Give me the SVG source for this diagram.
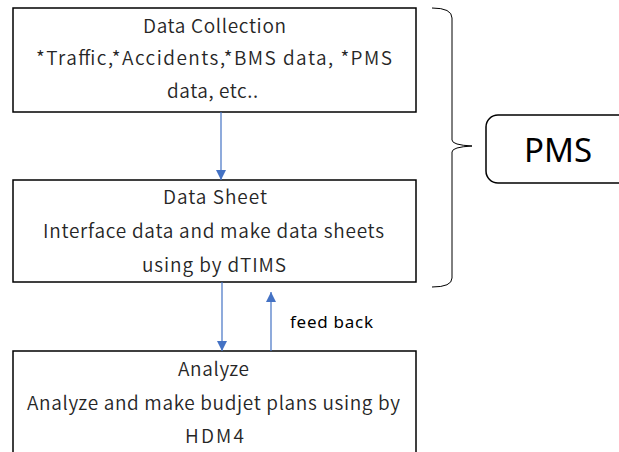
<svg xmlns="http://www.w3.org/2000/svg" width="619" height="452" viewBox="0 0 619 452">
  <style>
    .box { fill: #ffffff; stroke: #000000; stroke-width: 1.5; }
    .label { font-family: "Noto Sans CJK JP", "Noto Sans", sans-serif; font-size: 19px; font-weight: 350; fill: #262626; text-anchor: middle; }
    .link { stroke: #4472C4; stroke-width: 1.2; fill: none; }
    .note { font-family: "Noto Sans", "Liberation Sans", sans-serif; font-size: 17px; fill: #000000; }
  </style>
  <defs>
    <marker id="arrow" viewBox="0 0 10 10" refX="10" refY="5" markerWidth="10" markerHeight="10" markerUnits="userSpaceOnUse" orient="auto">
      <path d="M0,0 L10,5 L0,10 Z" fill="#4472C4"/>
    </marker>
  </defs>
  <rect width="619" height="452" fill="#ffffff"/>

  <g id="data-collection">
    <rect class="box" x="13" y="8" width="403" height="104"/>
    <text class="label" x="214.5" y="33" textLength="143" lengthAdjust="spacing">Data Collection</text>
    <text class="label" x="214" y="65" textLength="356" lengthAdjust="spacing">*Traffic,*Accidents,*BMS data, *PMS</text>
    <text class="label" x="212.5" y="98" textLength="91" lengthAdjust="spacing">data, etc..</text>
  </g>

  <g id="data-sheet">
    <rect class="box" x="13" y="180" width="403" height="102"/>
    <text class="label" x="215" y="204" textLength="104" lengthAdjust="spacing">Data Sheet</text>
    <text class="label" x="213.5" y="238" textLength="341" lengthAdjust="spacing">Interface data and make data sheets</text>
    <text class="label" x="214" y="272" textLength="144" lengthAdjust="spacing">using by dTIMS</text>
  </g>

  <g id="analyze">
    <rect class="box" x="13" y="351" width="403" height="110"/>
    <text class="label" x="213.5" y="376" textLength="71" lengthAdjust="spacing">Analyze</text>
    <text class="label" x="213.5" y="410" textLength="373" lengthAdjust="spacing">Analyze and make budjet plans using by</text>
    <text class="label" x="214.5" y="443" textLength="59" lengthAdjust="spacing">HDM4</text>
  </g>

  <g id="pms">
    <path d="M432,8 Q452,8 452,18 L452,140 Q452,145 472,146 Q452,147 452,152 L452,278 Q452,287 432,287" fill="none" stroke="#000000" stroke-width="1"/>
    <rect class="box" x="486" y="115" width="160" height="68" rx="12" ry="12"/>
    <text x="558" y="162" font-family="'Noto Sans', 'Open Sans', sans-serif" font-size="33" fill="#000000" text-anchor="middle">PMS</text>
  </g>

  <g id="connectors">
    <line class="link" x1="221" y1="112" x2="221" y2="180" marker-end="url(#arrow)"/>
    <line class="link" x1="222" y1="282" x2="222" y2="351" marker-end="url(#arrow)"/>
    <line class="link" x1="271" y1="351" x2="271" y2="292" marker-end="url(#arrow)" stroke="#8FAADC"/>
    <text class="note" x="290" y="328" textLength="83" lengthAdjust="spacing">feed back</text>
  </g>
</svg>
